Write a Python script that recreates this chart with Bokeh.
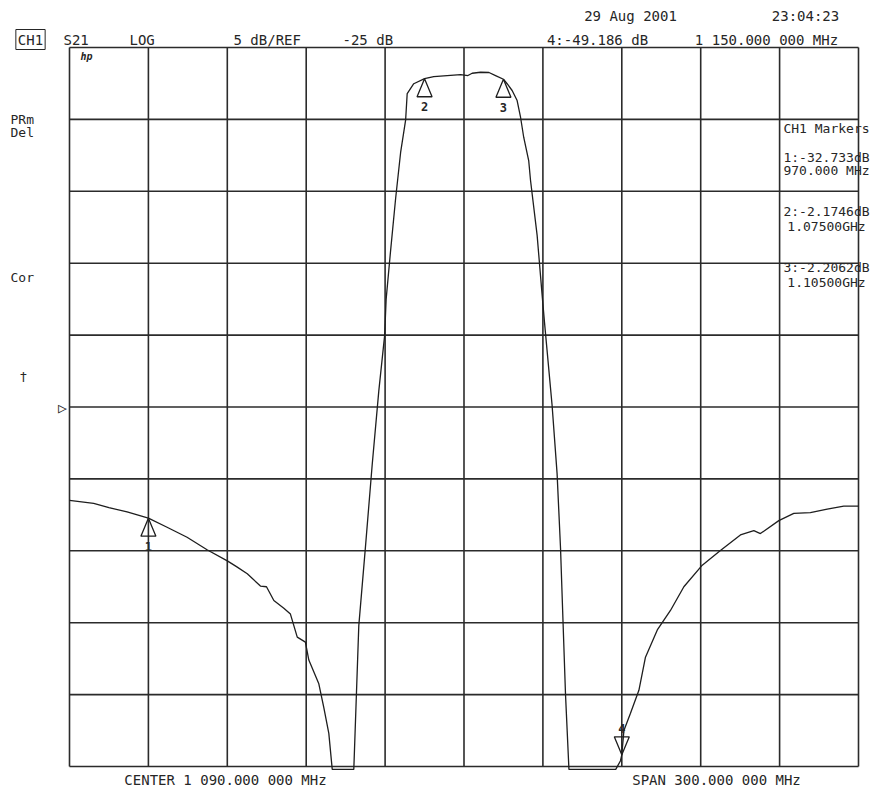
from bokeh.plotting import figure
from bokeh.models import Range1d, Label
from bokeh.embed import file_html
from bokeh.resources import INLINE
from bokeh.core.properties import value

# ---- data (frequency in MHz, S21 in dB) ----
freq_mhz = [940.0, 949.2, 955.0, 961.9, 970.0, 977.1, 984.7, 992.3, 1000.0, 1003.5,
            1007.6, 1012.6, 1014.9, 1017.7, 1021.5, 1024.0, 1026.6, 1029.7, 1031.0,
            1034.8, 1036.7, 1038.6, 1039.9, 1048.1, 1050.0, 1052.5, 1055.1, 1057.6,
            1059.8, 1060.4, 1062.0, 1064.0, 1065.9, 1067.8, 1068.4, 1070.9, 1075.0,
            1078.5, 1083.6, 1088.7, 1091.5, 1093.1, 1096.3, 1099.5, 1102.0, 1105.0,
            1106.4, 1108.3, 1110.2, 1111.5, 1112.7, 1114.6, 1115.3, 1117.8, 1119.7,
            1120.6, 1123.5, 1125.4, 1126.7, 1127.7, 1128.6, 1129.9, 1147.7, 1149.5,
            1150.0, 1150.8, 1153.3, 1156.5, 1159.0, 1163.5, 1168.5, 1173.6, 1180.6,
            1187.5, 1195.1, 1200.2, 1202.7, 1209.7, 1215.4, 1221.7, 1228.1, 1234.4,
            1240.0]
s21_db = [-31.5, -31.7, -32.0, -32.3, -32.73, -33.36, -34.06, -34.93, -35.7, -36.1,
          -36.6, -37.45, -37.5, -38.46, -39.0, -39.4, -41.0, -41.35, -42.6,
          -44.25, -45.9, -47.7, -50.2, -50.2, -40.2, -34.8, -29.0, -23.9,
          -20.07, -17.5, -14.3, -10.5, -7.3, -5.05, -3.2, -2.52, -2.17,
          -2.02, -1.95, -1.88, -1.95, -1.79, -1.72, -1.74, -1.95, -2.21,
          -2.52, -2.99, -3.69, -4.85, -6.24, -7.86, -9.25, -13.05, -17.2,
          -19.1, -24.9, -29.65, -34.8, -40.2, -45.0, -50.2, -50.2, -49.6,
          -49.19, -47.5, -46.3, -44.7, -42.4, -40.5, -39.15, -37.5, -36.0,
          -34.98, -33.9, -33.6, -33.8, -32.9, -32.4, -32.35, -32.1, -31.9,
          -31.9]

marker_ids = ["1", "2", "3", "4"]
marker_freq = [970.0, 1075.0, 1105.0, 1150.0]
marker_db = [-32.733, -2.1746, -2.2062, -49.186]

x_grid = [940, 970, 1000, 1030, 1060, 1090, 1120, 1150, 1180, 1210, 1240]
y_grid = [0, -5, -10, -15, -20, -25, -30, -35, -40, -45, -50]

header_texts = ["S21", "LOG", "5 dB/REF", "-25 dB"]
date_text = "29 Aug 2001"
time_text = "23:04:23"
active_marker_text = "4:-49.186 dB"
active_freq_text = "1 150.000 000 MHz"
center_text = "CENTER 1 090.000 000 MHz"
span_text = "SPAN 300.000 000 MHz"
marker_table = ["CH1 Markers", "1:-32.733dB", "970.000 MHz", "2:-2.1746dB",
                "1.07500GHz", "3:-2.2062dB", "1.10500GHz"]
side_texts = ["PRm", "Del", "Cor", "\u2020"]

# ---- geometry: the plotting frame covers the whole canvas ----
W, H = 885, 791
GX0, GX1 = 69.0, 858.0      # pixel columns of first / last graticule line
GY0, GY1 = 47.0, 766.0      # pixel rows of top / bottom graticule line
SX = (GX1 - GX0) / (x_grid[-1] - x_grid[0])
SY = (GY1 - GY0) / (y_grid[0] - y_grid[-1])
X0 = x_grid[0] - GX0 / SX
X1 = X0 + W / SX
Y1 = y_grid[0] + GY0 / SY
Y0 = Y1 - H / SY


def px(xp):
    return X0 + xp / SX


def py(yp):
    return Y1 - yp / SY


TXT = "#262626"
LINE = "#1e1e1e"
GRID = "#2b2b2b"
FONT = "DejaVu Sans Mono"

p = figure(width=W, height=H, title=None, x_range=Range1d(X0, X1), y_range=Range1d(Y0, Y1),
           x_axis_type=None, y_axis_type=None, toolbar_location=None,
           output_backend="svg", min_border=0)
p.outline_line_color = None
p.background_fill_color = "white"
p.border_fill_color = "white"
p.xgrid.visible = False
p.ygrid.visible = False

# graticule
p.segment(x0=x_grid, y0=[y_grid[-1]] * len(x_grid), x1=x_grid, y1=[y_grid[0]] * len(x_grid),
          line_color=GRID, line_width=1.6)
p.segment(x0=[x_grid[0]] * len(y_grid), y0=y_grid, x1=[x_grid[-1]] * len(y_grid), y1=y_grid,
          line_color=GRID, line_width=1.6)

# trace
p.line(freq_mhz, s21_db, line_color=LINE, line_width=1.3)

# marker triangles (apex on the trace)
hw, th = 7.5 / SX, 18 / SY
xs, ys = [], []
for mid, f, d in zip(marker_ids, marker_freq, marker_db):
    xs.append([f - hw, f + hw, f])
    if mid == "4":
        ys.append([d + th, d + th, d])
    else:
        ys.append([d - th, d - th, d])
p.patches(xs, ys, fill_color="white", fill_alpha=0.0, line_color=LINE, line_width=1.3)

for mid, f, d in zip(marker_ids, marker_freq, marker_db):
    off = -26 if mid == "4" else 28
    p.text(x=[f], y=[d], text=[mid], y_offset=off, text_align="center",
           text_baseline="middle", text_font=value(FONT), text_font_size="12px",
           text_color=TXT, text_font_style="bold")


def lab(text, xp, yp, size=14, align="left", **kw):
    p.add_layout(Label(x=px(xp), y=py(yp), text=text, text_font=FONT,
                       text_font_size=f"{size}px", text_align=align,
                       text_baseline="middle", text_color=TXT, **kw))


lab("CH1", 30, 39, align="center", border_line_color=TXT, border_line_width=1,
    background_fill_color="white", padding=2)
lab(header_texts[0], 63, 39)
lab(header_texts[1], 129, 39)
lab(header_texts[2], 233, 39)
lab(header_texts[3], 342, 39)
lab(date_text, 630, 15, align="center")
lab(time_text, 805, 15, align="center")
lab(active_marker_text, 597, 39, align="center")
lab(active_freq_text, 766, 39, align="center")
lab(center_text, 225, 779, align="center")
lab(span_text, 716, 779, align="center")

table_y = [128, 157, 170, 211, 226, 267, 282]
for t, yy in zip(marker_table, table_y):
    lab(t, 826, yy, size=13, align="center")

lab(side_texts[0], 10, 119, size=13)
lab(side_texts[1], 10, 132, size=13)
lab(side_texts[2], 10, 277, size=13)
lab(side_texts[3], 19, 376, size=13)
lab("\u25B7", 62, 407, size=15, align="center")
lab("hp", 86, 56, size=10, align="center", text_font_style="bold italic")

open("out.html", "w").write(file_html(p, INLINE))
